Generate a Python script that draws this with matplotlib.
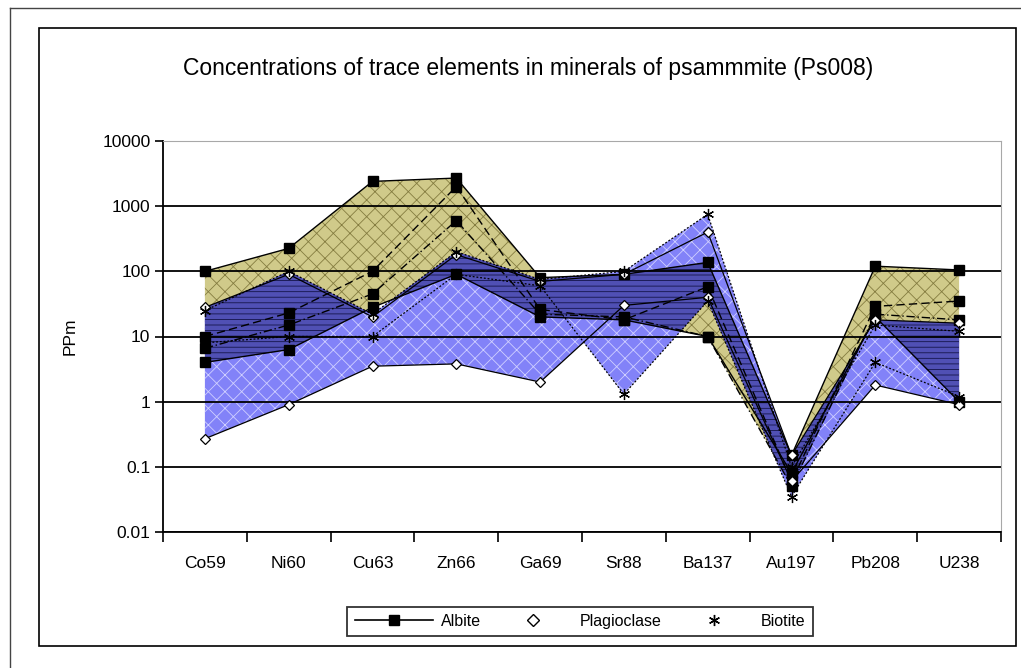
import numpy as np
import matplotlib
matplotlib.use("Agg")
import matplotlib.pyplot as plt
from matplotlib.lines import Line2D
from matplotlib.patches import PathPatch, Rectangle
from matplotlib.path import Path
from matplotlib.ticker import NullLocator

elements = ["Co59", "Ni60", "Cu63", "Zn66", "Ga69", "Sr88", "Ba137", "Au197", "Pb208", "U238"]

# albite analyses, ppm
albite_1 = [100, 225, 2400, 2700, 80, 90, 137, 0.15, 120, 105]
albite_2 = [10, 23, 100, 2000, 26, 18, 58, 0.06, 29, 35]
albite_3 = [6.6, 15, 45, 600, 22, 20, 10, 0.05, 22, 18]
albite_4 = [4, 6.3, 28, 90, 20, 18, 10, 0.08, 20, 1.0]

# plagioclase analyses, ppm
plag_1 = [0.27, 0.9, 3.5, 3.8, 2.0, 30, 40, 0.06, 1.8, 0.9]
plag_2 = [28, 90, 20, 180, 70, 90, 400, 0.15, 18, 16]

# biotite analyses, ppm
biotite_1 = [8, 10, 10, 90, 60, 1.3, 35, 0.035, 4, 1.2]
biotite_2 = [25, 100, 22, 200, 75, 100, 750, 0.1, 15, 12]

y_ticks = [0.01, 0.1, 1, 10, 100, 1000, 10000]
y_labels = ["0.01", "0.1", "1", "10", "100", "1000", "10000"]

plt.rcParams['font.family'] = ['Liberation Sans', 'DejaVu Sans']
plt.rcParams['hatch.linewidth'] = 0.6

W, H = 1021, 668
fig = plt.figure(figsize=(W / 100, H / 100), dpi=100)
ax = fig.add_axes([163 / W, 1 - 532 / H, (1001 - 163) / W, (532 - 141) / H])

x = np.arange(len(elements))
alb = np.array([albite_1, albite_2, albite_3, albite_4])
plag = np.array([plag_1, plag_2])
bio = np.array([biotite_1, biotite_2])

ax.set_yscale('log')

# range areas
alb_fill = ax.fill_between(x, alb.min(0), alb.max(0), facecolor='#d0ca8a',
                           edgecolor='#847c40', hatch='xx', lw=0)
clip = PathPatch(Path.make_compound_path(*alb_fill.get_paths()), transform=ax.transData)
for grp in (plag, bio):
    ax.fill_between(x, grp.min(0), grp.max(0), facecolor='#8282f8',
                    edgecolor='#d0d0ff', hatch='xx', lw=0)
for grp in (plag, bio):
    dk = ax.fill_between(x, grp.min(0), grp.max(0), facecolor='#5050b4',
                         edgecolor='#15154a', hatch='---', lw=0)
    dk.set_clip_path(clip)

# individual analyses
styles = ['-', (0, (6, 3)), (0, (6, 2, 1, 2)), '-']
for s, ls in zip(alb, styles):
    ax.plot(x, s, color='black', lw=1.0, ls=ls, marker='s', ms=7, mfc='black', mec='black', zorder=4)
for s in plag:
    ax.plot(x, s, color='black', lw=0.9, marker='D', ms=5.5, mfc='white', mec='black', mew=0.9, zorder=4)
for s in bio:
    ax.plot(x, s, color='black', lw=0.9, ls=(0, (1.5, 1.5)), marker=(6, 2, 0), ms=8,
            mec='black', mew=0.9, zorder=4)

ax.set_xlim(-0.5, len(elements) - 0.5)
ax.set_ylim(0.01, 10000)
ax.set_xticks(x, elements)
ax.set_xticks(np.arange(-0.5, len(elements), 1), minor=True)
ax.tick_params(axis='x', which='major', length=0, pad=17, labelsize=12.5)
ax.tick_params(axis='x', which='minor', length=7, width=1.2, direction='out')
ax.set_yticks(y_ticks, y_labels)
ax.yaxis.set_minor_locator(NullLocator())
ax.tick_params(axis='y', length=6, width=1.2, direction='out', pad=3, labelsize=12.5)
ax.yaxis.grid(True, color='black', lw=1.3)

for side in ('left', 'bottom'):
    ax.spines[side].set_linewidth(1.3)
ax.spines['right'].set_color('#a8a8a8')
ax.spines['top'].set_color('#a8a8a8')

ax.set_ylabel('PPm', fontsize=12.5)
ax.yaxis.set_label_coords((78 - 163) / 838, 0.5)

fig.text(528 / W, 1 - 68 / H, 'Concentrations of trace elements in minerals of psammmite (Ps008)',
         ha='center', va='center', fontsize=16.5)

handles = [
    Line2D([], [], color='black', lw=1.2, marker='s', ms=7),
    Line2D([], [], ls='none', marker='D', ms=6, mfc='white', mec='black'),
    Line2D([], [], ls='none', marker=(6, 2, 0), ms=8, mec='black'),
]
leg = fig.legend(handles, ['Albite', 'Plagioclase', 'Biotite'], loc='center',
                 bbox_to_anchor=(580 / W, 1 - 621.5 / H), ncol=3, fontsize=11.5,
                 handlelength=4.9, handletextpad=0.5, columnspacing=0.8,
                 frameon=True, fancybox=False, borderpad=0.45)
leg.get_frame().set_edgecolor('black')
leg.get_frame().set_linewidth(1.3)

# chart frame and outer border
fig.add_artist(Rectangle((39 / W, 1 - 646 / H), (1016 - 39) / W, (646 - 28) / H,
                         transform=fig.transFigure, fill=False, ec='black', lw=1.2))
fig.add_artist(Line2D([10 / W, 10 / W], [0, 1 - 8 / H], transform=fig.transFigure, color='#444444', lw=1))
fig.add_artist(Line2D([10 / W, 1], [1 - 8 / H, 1 - 8 / H], transform=fig.transFigure, color='#444444', lw=1))

fig.savefig('out.png', dpi=100)
